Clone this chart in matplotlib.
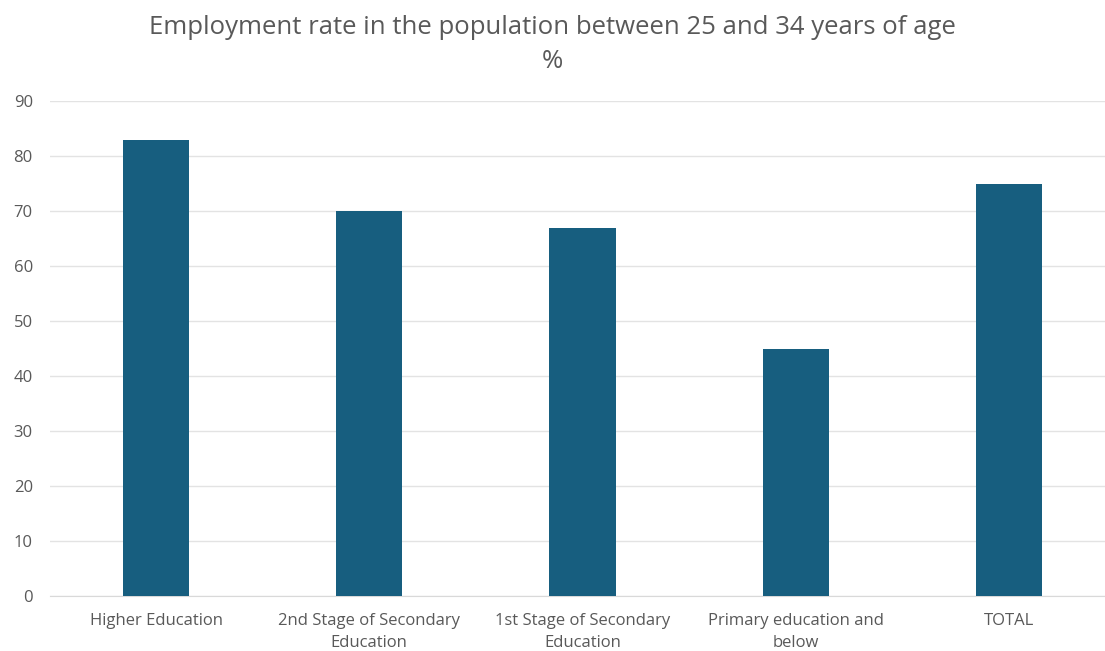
import matplotlib.pyplot as plt

categories = ["Higher Education", "2nd Stage of Secondary\nEducation",
              "1st Stage of Secondary\nEducation", "Primary education and\nbelow", "TOTAL"]
values = [83, 70, 67, 45, 75]
yticks = [0, 10, 20, 30, 40, 50, 60, 70, 80, 90]

plt.rcParams['font.family'] = ['Open Sans', 'DejaVu Sans']
text_color = '#595959'

fig = plt.figure(figsize=(11.05, 6.51), dpi=100)
# plot area: x from ~49 px to ~1115 px, y from 101 (90) to 596 (0)
ax = fig.add_axes([49.5 / 1105, (651 - 596) / 651, 1066 / 1105, 495 / 651])

ax.bar(range(len(values)), values, width=0.31, color='#175E7F', zorder=3)
ax.set_xlim(-0.5, len(values) - 0.5)
ax.set_ylim(0, 90)
ax.set_yticks(yticks)
ax.set_xticks(range(len(categories)))
ax.set_xticklabels(categories, fontsize=12, color=text_color, linespacing=1.55)
ax.tick_params(axis='y', labelsize=12, labelcolor=text_color, length=0, pad=12)
ax.tick_params(axis='x', length=0, pad=12)

ax.grid(axis='y', color='#E3E3E3', linewidth=1, zorder=0)
for s in ['top', 'right', 'left']:
    ax.spines[s].set_visible(False)
ax.spines['bottom'].set_color('#D9D9D9')

fig.text(0.5, 1 - 28 / 651, "Employment rate in the population between 25 and 34 years of age",
         ha='center', va='center', fontsize=18.5, color=text_color)
fig.text(0.5, 1 - 62 / 651, "%", ha='center', va='center', fontsize=18.5, color=text_color)

fig.savefig('out.png', dpi=100)
